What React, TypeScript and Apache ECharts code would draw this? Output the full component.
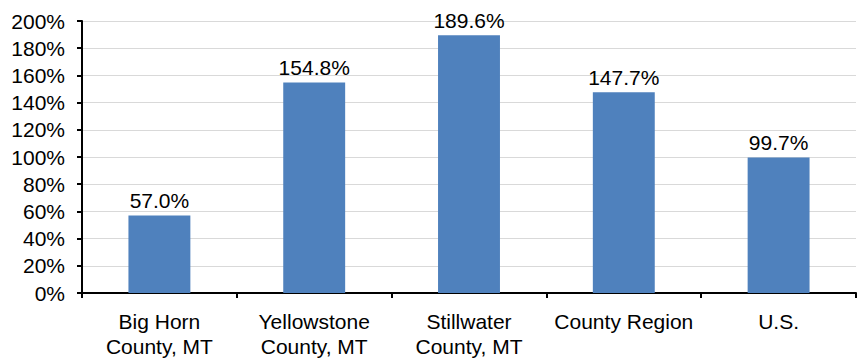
import React, { useEffect, useRef } from "react";
import * as echarts from "echarts";

const categories = ["Big Horn\nCounty, MT", "Yellowstone\nCounty, MT", "Stillwater\nCounty, MT", "County Region", "U.S."];
const values = [57.0, 154.8, 189.6, 147.7, 99.7];
const yMin = 0;
const yMax = 200;
const yInterval = 20;

export default function App() {
  const ref = useRef<HTMLDivElement>(null);
  useEffect(() => {
    document.body.style.margin = "0";
    const chart = echarts.init(ref.current!, null, { renderer: "svg" });
    const font = "Liberation Sans, Arial, sans-serif";
    chart.setOption({
      animation: false,
      grid: { left: 82, right: 3, top: 21, bottom: 69, containLabel: false },
      xAxis: {
        type: "category",
        data: categories,
        axisLine: { lineStyle: { color: "#000", width: 2 } },
        axisTick: { show: true, length: 5, lineStyle: { color: "#000", width: 2 } },
        axisLabel: { color: "#000", fontSize: 21, fontFamily: font, margin: 16, lineHeight: 25, interval: 0 },
      },
      yAxis: {
        type: "value",
        min: yMin,
        max: yMax,
        interval: yInterval,
        axisLine: { show: true, lineStyle: { color: "#000", width: 2 } },
        axisTick: { show: true, length: 5, lineStyle: { color: "#000", width: 2 } },
        axisLabel: { color: "#000", fontSize: 21, fontFamily: font, margin: 17, formatter: "{value}%" },
        splitLine: { lineStyle: { color: "#d9d9d9", width: 1.2 } },
      },
      series: [
        {
          type: "bar",
          data: values,
          barWidth: "40%",
          itemStyle: { color: "#4F81BD" },
          label: {
            show: true,
            position: "top",
            distance: 4,
            color: "#000",
            fontSize: 21,
            fontFamily: font,
            formatter: (p: any) => p.value.toFixed(1) + "%",
          },
        },
      ],
    });
    return () => chart.dispose();
  }, []);
  return <div ref={ref} style={{ width: 859, height: 362 }} />;
}
